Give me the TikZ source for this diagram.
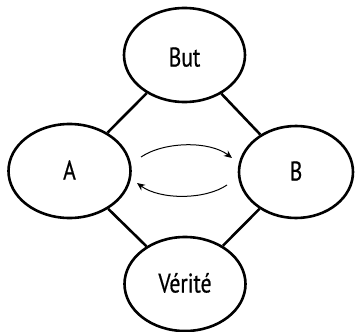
\documentclass[tikz,border=0pt]{standalone}
\usepackage{fontspec}
\setmainfont{PT Sans}[FakeStretch=0.8,FakeBold=0.6]
\usetikzlibrary{shapes.geometric,arrows.meta}
\begin{document}
\begin{tikzpicture}[x=1pt,y=-1pt,
  bubble/.style={ellipse,draw,line width=2.6pt,inner sep=0pt,
    font=\fontsize{27}{27}\selectfont,text height=17pt,text depth=0pt},
  link/.style={line width=2.6pt},
  flow/.style={line width=1pt,-{Stealth[length=8pt,width=7pt]}}]
  \useasboundingbox (0,0) rectangle (355,331);

  % the four ellipses
  \node[bubble,minimum width=121pt,minimum height=94pt,text height=23pt] (but) at (184.5,55) {But};
  \node[bubble,minimum width=122pt,minimum height=94pt] (a) at (69.5,171) {A};
  \node[bubble,minimum width=114pt,minimum height=92pt] (b) at (296,172) {B};
  \node[bubble,minimum width=121pt,minimum height=94pt] (verite) at (185,284) {Vérité};

  % frame links between the ellipses
  \draw[link] (but) -- (a);
  \draw[link] (but) -- (b);
  \draw[link] (a) -- (verite);
  \draw[link] (b) -- (verite);

  % exchange arrows between A and B
  \coordinate (ab0) at (141,157);
  \coordinate (ab1) at (232,158);
  \coordinate (ba0) at (227,185);
  \coordinate (ba1) at (137,183);
  \draw[flow] (ab0) .. controls (165,141) and (210,141) .. (ab1);
  \draw[flow] (ba0) .. controls (205,200) and (160,200) .. (ba1);
\end{tikzpicture}
\end{document}
